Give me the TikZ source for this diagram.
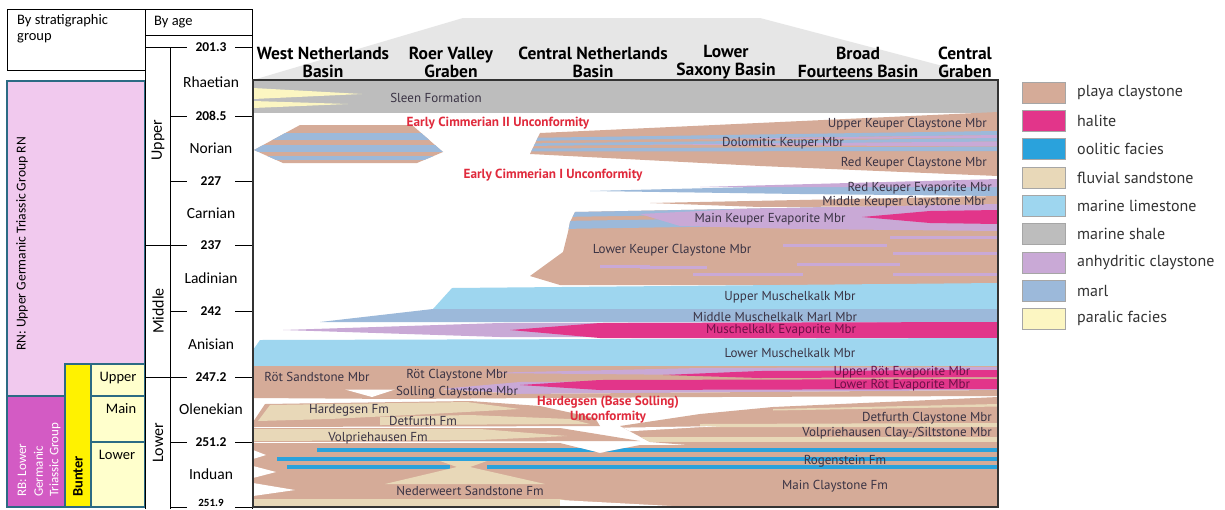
\documentclass[tikz,border=0pt]{standalone}
\usepackage{fontspec}
\setmainfont{PT Sans}
\newfontfamily\leftfont{Carlito}
\definecolor{playa}{HTML}{D5AB98}
\definecolor{halite}{HTML}{E2358A}
\definecolor{oolite}{HTML}{2AA2DC}
\definecolor{fluvial}{HTML}{E8D8B8}
\definecolor{limest}{HTML}{9ED6EF}
\definecolor{shale}{HTML}{BDBDBD}
\definecolor{anhyd}{HTML}{C9A9D6}
\definecolor{marl}{HTML}{9CB9DA}
\definecolor{paralic}{HTML}{FCF6C2}
\definecolor{lbl}{HTML}{3A3344}
\definecolor{unccol}{HTML}{E02A3C}
\definecolor{evtext}{HTML}{6E1048}
\definecolor{rnpink}{HTML}{F1C9EE}
\definecolor{rbmag}{HTML}{D35BC4}
\definecolor{bunter}{HTML}{FFF200}
\definecolor{lyel}{HTML}{FFFFCC}
\definecolor{boxline}{HTML}{2C6B84}
\definecolor{hdrgray}{HTML}{E6E6E6}
\begin{document}
\begin{tikzpicture}[x=1pt,y=-1pt,
  lab/.style={font=\fontsize{13}{13}\selectfont, text=lbl, inner sep=0pt},
  unclab/.style={font=\fontsize{13.2}{15}\selectfont\bfseries, text=unccol, inner sep=0pt, align=center},
  hdr/.style={font=\fontsize{17.5}{18}\selectfont\bfseries, align=center, inner sep=0pt},
  leg/.style={font=\fontsize{16}{16}\selectfont, text=black!80, inner sep=0pt, anchor=west},
  swatch/.style={draw=black!35, line width=0.6pt},
  lcol/.style={font=\leftfont\fontsize{14.5}{16.5}\selectfont, inner sep=0pt},
  stage/.style={font=\leftfont\fontsize{15.5}{16}\selectfont, inner sep=0pt},
  agenum/.style={font=\leftfont\bfseries\fontsize{13.5}{14}\selectfont, inner sep=0pt},
  epoch/.style={font=\leftfont\fontsize{16}{16}\selectfont, inner sep=0pt, rotate=90},
  rbtext/.style={font=\leftfont\fontsize{13}{14}\selectfont, text=white, rotate=90, anchor=west, inner sep=0pt},
  gbox/.style={draw=boxline, line width=1.2pt},
  agel/.style={line width=0.8pt, black}]
\useasboundingbox (0,0) rectangle (1225,509);
\fill[white] (0,0) rectangle (1225,509);

% ---------- left column ----------
\draw[line width=1pt] (7,9) rectangle (145,70);
\draw[line width=1pt] (145,9) rectangle (252,35);
\node[lcol, anchor=north west, align=left] (bystrat) at (17,14) {By stratigraphic\\group};
\node[lcol, anchor=west] (byage) at (154,22) {By age};

\fill[rnpink] (7,81) rectangle (145,396);
\draw[gbox] (7,81) rectangle (145,396);
\node[font=\leftfont\fontsize{13.6}{14}\selectfont, rotate=90, inner sep=0pt] (rn) at (22,244) {RN: Upper Germanic Triassic Group RN};
\fill[rbmag] (7,396) rectangle (65,507);
\draw[gbox] (7,396) rectangle (65,507);
\node[rbtext] (rb1) at (22,497) {RB: Lower};
\node[rbtext] (rb2) at (38.5,497) {Germanic};
\node[rbtext] (rb3) at (55,497) {Triassic Group};
\fill[bunter] (65,364) rectangle (91,507);
\draw[gbox] (65,364) rectangle (91,507);
\node[font=\leftfont\bfseries\fontsize{14.5}{16}\selectfont, rotate=90, anchor=west, inner sep=0pt] (bunterlab) at (78,497) {Bunter};
\fill[lyel] (91,364) rectangle (145,507);
\draw[gbox] (91,364) rectangle (145,396);
\draw[gbox] (91,396) rectangle (145,442);
\draw[gbox] (91,442) rectangle (145,507);
\node[lcol] (bupper) at (118,378) {Upper};
\node[lcol] (bmain) at (121,409) {Main};
\node[lcol] (blower) at (117,455) {Lower};

% age scale
\draw[agel] (145,47) -- (145,509);
\draw[agel] (170,47) -- (170,509);
\draw[agel] (252,36) -- (252,509);
\foreach \y/\t [count=\i] in {47/201.3,116/208.5,181/227,245/237,311/242,377/247.2,442/251.2}{
  \node[agenum] (age\i) at (211,\y) {\t};
  \draw[agel] (170,\y) -- (187,\y);
  \draw[agel] (235,\y) -- (252,\y);
}
\node[agenum, font=\leftfont\bfseries\fontsize{11}{11}\selectfont] (age8) at (211,503) {251.9};
\draw[agel] (170,507) -- (187,507);
\draw[agel] (235,507) -- (252,507);
\draw[agel] (145,47) -- (170,47);
\draw[agel] (145,377) -- (170,377);
\draw[agel] (145,245) -- (170,245);
\node[stage] (st1) at (211,82) {Rhaetian};
\node[stage] (st2) at (211,148) {Norian};
\node[stage] (st3) at (211,213) {Carnian};
\node[stage] (st4) at (211,278) {Ladinian};
\node[stage] (st5) at (211,344) {Anisian};
\node[stage] (st6) at (211,409) {Olenekian};
\node[stage] (st7) at (211,474) {Induan};
\node[epoch] (ep1) at (158,140) {Upper};
\node[epoch] (ep2) at (158,311) {Middle};
\node[epoch] (ep3) at (158,443) {Lower};

% ---------- header ----------
\fill[hdrgray] (253,80) -- (463,18) -- (760,18) -- (996,80) -- cycle;
\node[hdr] (h1) at (323,62) {West Netherlands\\Basin};
\node[hdr] (h2) at (451,62) {Roer Valley\\Graben};
\node[hdr] (h3) at (593,62) {Central Netherlands\\Basin};
\node[hdr] (h4) at (726,62) {Lower\\Saxony Basin};
\node[hdr] (h5) at (858,62) {Broad\\Fourteens Basin};
\node[hdr] (h6) at (965,62) {Central\\Graben};

% ---------- chart ----------
% Sleen
\fill[shale] (253,80) rectangle (998,113);
\fill[paralic] (253,88) -- (362,94) -- (253,99) -- cycle;
\fill[paralic] (253,101) -- (348,104) -- (253,108) -- cycle;

% Norian left lens
\begin{scope}
\clip (300,125) -- (412,125) -- (443,152) -- (417,163) -- (283,163) -- (254,150) -- cycle;
\fill[playa] (250,120) rectangle (450,170);
\fill[marl] (250,133) rectangle (450,140);
\fill[marl] (250,145) rectangle (450,152);
\fill[marl] (250,156) rectangle (450,160);
\end{scope}

% Norian right wedge
\begin{scope}
\clip (540,133) -- (998,112) -- (998,176) -- (760,166) -- (530,154) -- cycle;
\fill[playa] (520,100) rectangle (1000,180);
\fill[marl] (520,138) -- (998,131) -- (998,135) -- (520,141) -- cycle;
\fill[anhyd] (680,139.5) -- (998,135) -- (998,138) -- cycle;
\fill[marl] (520,143.5) -- (998,138) -- (998,141.5) -- (520,146) -- cycle;
\fill[anhyd] (650,144.5) -- (998,141.5) -- (998,146.5) -- cycle;
\fill[marl] (520,148.5) -- (998,146.5) -- (998,151) -- (520,151.5) -- cycle;
\end{scope}

% Red Keuper Evaporite / Middle Keuper Claystone
\fill[marl] (590,191) -- (998,181) -- (998,196) -- (800,194) -- cycle;
\fill[anhyd] (700,187) -- (998,179) -- (998,187) -- cycle;
\fill[playa] (650,203) -- (998,196) -- (998,206) -- (760,207) -- cycle;

% Main Keuper Evaporite + Lower Keuper Claystone
\begin{scope}
\clip (575,212) -- (998,204) -- (998,285) -- (560,285) -- (530,276) -- (563,252) -- (568,232) -- (570,222) -- cycle;
\fill[playa] (520,200) rectangle (1000,290);
\fill[marl] (560,211) -- (998,205) -- (998,210) -- (560,217) -- cycle;
\fill[marl] (560,221) -- (998,214) -- (998,222) -- (560,229) -- cycle;
\fill[anhyd] (640,214) -- (800,206) -- (998,203) -- (998,231) -- (800,229) -- (680,226) -- cycle;
\fill[halite] (862,217) -- (930,211) -- (998,210) -- (998,224) -- (930,223) -- cycle;
\fill[anhyd] (890,236) rectangle (998,239);
\fill[anhyd] (783,244) rectangle (887,247);
\fill[anhyd] (893,252) rectangle (998,255);
\fill[anhyd] (600,265) rectangle (650,268);
\fill[anhyd] (640,266) rectangle (707,269);
\fill[anhyd] (797,263) rectangle (900,266);
\fill[anhyd] (693,273) rectangle (803,276);
\fill[anhyd] (893,273) rectangle (998,276);
\end{scope}

% Muschelkalk
\fill[limest] (452,288) -- (998,283) -- (998,309) -- (433,309) -- cycle;
\fill[marl] (320,322) -- (433,309) -- (998,309) -- (998,322) -- cycle;
\fill[anhyd] (283,330) -- (500,323) -- (998,322) -- (998,338) -- (500,337) -- cycle;
\fill[halite] (510,330) -- (600,323) -- (998,322) -- (998,338) -- (600,338) -- cycle;
\fill[limest] (260,340) -- (998,338) -- (998,367) -- (253,367) -- (253,350) -- cycle;

% Roet
\fill[playa] (253,366) rectangle (998,389);
\fill[anhyd] (480,373) -- (700,368) -- (998,367) -- (998,373) -- (700,375) -- cycle;
\fill[halite] (663,375) -- (760,371) -- (998,370) -- (998,377) -- (760,378) -- cycle;
\fill[anhyd] (440,389) -- (520,382) -- (998,379) -- (998,390) -- (520,394) -- cycle;
\fill[halite] (520,385) -- (600,380) -- (998,379) -- (998,389) -- (600,390) -- cycle;
% Solling
\fill[playa] (253,389) -- (440,389) -- (520,394) -- (998,390) -- (998,396) -- (720,397) -- (540,398) -- (400,399) -- (253,398) -- cycle;
\fill[white] (345,389.5) -- (395,389.5) -- (372,397) -- cycle;

% Hardegsen / Detfurth / Volpriehausen (left)
\fill[playa] (265,404) -- (470,401) -- (540,406) -- (595,418) -- (600,426) -- (253,427) -- (253,422) -- cycle;
\fill[fluvial] (270,405) -- (467,402) -- (520,409) -- (430,414) -- (330,419) -- (258,421) -- cycle;
\fill[fluvial] (380,417) -- (470,415) -- (570,419) -- (590,424) -- (380,425) -- cycle;
\fill[playa] (253,428) -- (560,428) -- (640,441) -- (253,442) -- cycle;
\fill[fluvial] (253,429) -- (480,429) -- (567,436) -- (480,440) -- (253,441) -- cycle;

% right lower block
\begin{scope}
\clip (620,426) -- (700,414) -- (773,407) -- (998,397) -- (998,446) -- (700,446) -- (650,442) -- cycle;
\fill[playa] (600,390) rectangle (1000,450);
\fill[fluvial] (773,409) -- (998,404) -- (998,406.5) -- (773,410.5) -- cycle;
\fill[fluvial] (700,424) -- (998,423) -- (998,427) -- (700,427) -- cycle;
\fill[fluvial] (640,437) -- (998,437) -- (998,442) -- (640,442) -- cycle;
\fill[white] (600,428) -- (720,426) -- (600,433) -- cycle;
\end{scope}

% Main Claystone + Rogenstein
\begin{scope}
\clip (253,443) -- (560,443) -- (600,453) -- (640,445) -- (998,446) -- (998,507) -- (253,507) -- cycle;
\fill[playa] (250,440) rectangle (1000,510);
\fill[oolite] (317,448) rectangle (998,452);
\fill[oolite] (277,457) rectangle (998,461);
\fill[oolite] (287,465) rectangle (450,469);
\fill[oolite] (487,465) rectangle (998,469);
\fill[fluvial] (440,461) -- (487,461) -- (470,467) -- (545,484) -- (385,484) -- (457,467) -- cycle;
\fill[fluvial] (253,499) -- (560,499) -- (600,507) -- (253,507) -- cycle;
\fill[white] (560,500) -- (690,507) -- (560,507) -- cycle;
\fill[white] (253,450) -- (266,455) -- (253,459) -- cycle;
\fill[white] (253,466) -- (276,472) -- (253,478) -- cycle;
\fill[white] (253,483) -- (295,490) -- (253,496) -- cycle;
\end{scope}

% frame
\draw[line width=1.5pt, black!80] (253,80) rectangle (998,507);

% chart labels
\node[lab] (sleen) at (436,98) {Sleen Formation};
\node[unclab] (ec2) at (498,123) {Early Cimmerian II Unconformity};
\node[lab, anchor=east] (ukc) at (987,124) {Upper Keuper Claystone Mbr};
\node[lab] (dolk) at (783,143) {Dolomitic Keuper Mbr};
\node[lab, anchor=east] (rkc) at (987,163) {Red Keuper Claystone Mbr};
\node[unclab] (ec1) at (553,175) {Early Cimmerian I Unconformity};
\node[lab, anchor=east] (rke) at (992,188) {Red Keuper Evaporite Mbr};
\node[lab, anchor=east] (mkc) at (986,202) {Middle Keuper Claystone Mbr};
\node[lab] (mke) at (770,219) {Main Keuper Evaporite Mbr};
\node[lab] (lkc) at (672,250) {Lower Keuper Claystone Mbr};
\node[lab] (umk) at (790,297) {Upper Muschelkalk Mbr};
\node[lab] (mmk) at (775,317) {Middle Muschelkalk Marl Mbr};
\node[lab, text=evtext] (mke2) at (781,330) {Muschelkalk Evaporite Mbr};
\node[lab] (lmk) at (790,353) {Lower Muschelkalk Mbr};
\node[lab] (rsm) at (317,377) {Röt Sandstone Mbr};
\node[lab] (rcm) at (457,375) {Röt Claystone Mbr};
\node[lab, text=evtext] (ure) at (902,372) {Upper Röt Evaporite Mbr};
\node[lab, text=evtext] (lre) at (902,385) {Lower Röt Evaporite Mbr};
\node[lab] (scm) at (457,392) {Solling Claystone Mbr};
\node[unclab] (hdu) at (608,410) {Hardegsen (Base Solling)\\Unconformity};
\node[lab] (hfm) at (349,410) {Hardegsen Fm};
\node[lab] (dfm) at (423,421) {Detfurth Fm};
\node[lab] (vfm) at (378,438) {Volpriehausen Fm};
\node[lab, anchor=east] (dcm) at (992,418) {Detfurth Claystone Mbr};
\node[lab, anchor=east] (vcm) at (992,433) {Volpriehausen Clay-/Siltstone Mbr};
\node[lab] (rog) at (845,461) {Rogenstein Fm};
\node[lab] (mcf) at (835,486) {Main Claystone Fm};
\node[lab] (ned) at (470,491) {Nederweert Sandstone Fm};

% ---------- legend ----------
\foreach \c/\t [count=\i] in {playa/playa claystone,halite/halite,oolite/oolitic facies,fluvial/fluvial sandstone,limest/marine limestone,shale/marine shale,anhyd/anhydritic claystone,marl/marl,paralic/paralic facies}{
  \pgfmathsetmacro{\yy}{82+28.3*(\i-1)}
  \fill[\c] (1022,\yy) rectangle (1065,\yy+21);
  \draw[swatch] (1022,\yy) rectangle (1065,\yy+21);
  \node[leg] (leg\i) at (1077,\yy+10.5) {\t};
}
\end{tikzpicture}
\end{document}
